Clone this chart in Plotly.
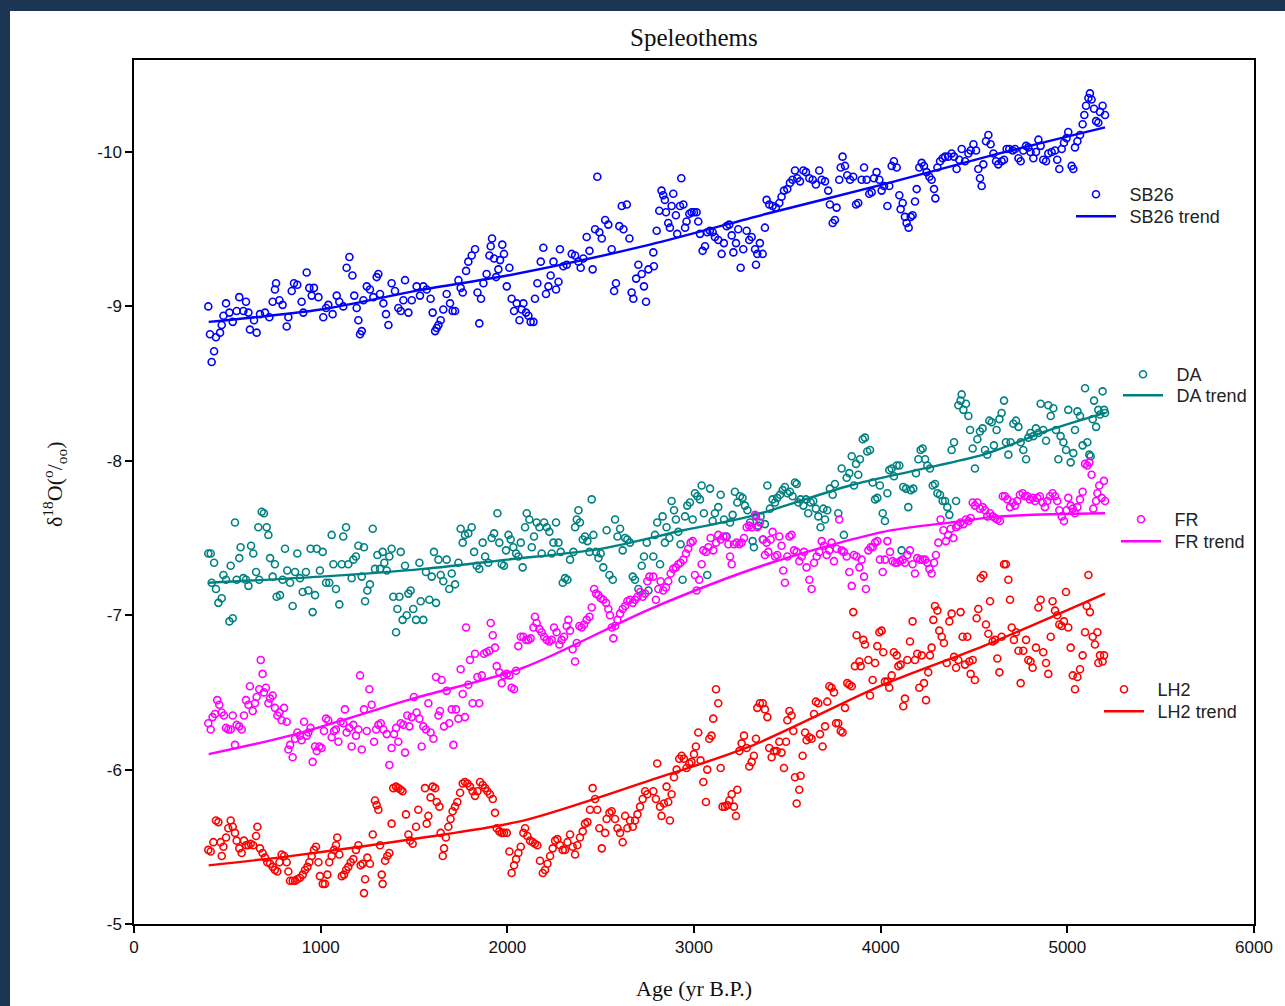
import plotly.graph_objects as go

# ---------------- data (age yr B.P., d18O permil) ----------------
SB26_POINTS = [
(398,-9.00),(407,-8.82),(416,-8.64),(429,-8.71),(439,-8.80),(461,-8.83),(470,-8.88),(479,-8.94),(493,-9.02),(511,-8.96),
(529,-8.90),(550,-8.97),(564,-9.06),(586,-8.97),(600,-9.03),(613,-8.96),(621,-8.85),(643,-8.91),(657,-8.83),(675,-8.95),
(702,-8.96),(725,-8.93),(743,-9.03),(755,-9.11),(761,-9.15),(779,-9.04),(796,-9.01),(818,-8.87),(827,-8.93),(845,-9.10),
(857,-9.15),(875,-9.14),(898,-9.03),(907,-8.96),(925,-9.22),(939,-9.12),(952,-9.07),(964,-9.12),(988,-9.06),(1014,-8.93),
(1029,-8.99),(1041,-9.01),(1064,-8.95),(1086,-9.07),(1100,-9.03),(1121,-9.00),(1139,-9.25),(1154,-9.32),(1170,-9.20),(1180,-9.07),
(1193,-8.99),(1202,-8.91),(1211,-8.82),(1220,-8.84),(1229,-9.04),(1247,-9.13),(1264,-9.11),(1282,-9.06),(1300,-9.19),(1309,-9.21),
(1318,-9.08),(1336,-9.02),(1350,-8.95),(1363,-8.88),(1380,-9.15),(1398,-9.10),(1416,-8.99),(1429,-8.97),(1443,-9.04),(1452,-9.17),
(1470,-8.96),(1488,-9.04),(1514,-9.13),(1532,-9.07),(1550,-9.13),(1568,-9.11),(1589,-9.05),(1600,-8.96),(1613,-8.84),(1622,-8.86),
(1631,-8.88),(1643,-8.91),(1657,-8.98),(1675,-9.08),(1693,-9.02),(1707,-8.97),(1720,-8.97),(1738,-9.17),(1750,-9.12),(1761,-9.09),
(1779,-9.23),(1791,-9.29),(1809,-9.33),(1827,-9.37),(1840,-9.09),(1850,-8.89),(1859,-9.05),(1872,-9.15),(1889,-9.21),(1904,-9.33),
(1911,-9.39),(1918,-9.44),(1929,-9.31),(1940,-9.19),(1952,-9.24),(1961,-9.30),(1973,-9.40),(1982,-9.34),(1997,-9.13),(2011,-9.25),
(2023,-9.05),(2036,-8.97),(2050,-9.02),(2065,-8.91),(2077,-8.98),(2086,-9.02),(2100,-8.96),(2113,-8.94),(2125,-8.90),(2140,-8.90),
(2148,-9.05),(2161,-9.15),(2179,-9.29),(2193,-9.38),(2207,-9.08),(2220,-9.13),(2232,-9.20),(2247,-9.29),(2261,-9.11),(2274,-9.16),
(2282,-9.37),(2300,-9.26),(2318,-9.27),(2345,-9.34),(2363,-9.33),(2381,-9.29),(2393,-9.25),(2407,-9.31),(2425,-9.45),(2440,-9.36),
(2457,-9.24),(2470,-9.50),(2482,-9.84),(2493,-9.48),(2506,-9.44),(2524,-9.56),(2541,-9.53),(2559,-9.37),(2572,-9.10),(2582,-9.15),
(2600,-9.52),(2613,-9.65),(2622,-9.50),(2640,-9.66),(2654,-9.44),(2666,-9.09),(2675,-9.05),(2690,-9.18),(2702,-9.27),(2720,-9.21),
(2732,-9.13),(2743,-9.03),(2756,-9.24),
(2782,-9.35),(2785,-9.26),(2800,-9.49),(2814,-9.62),(2826,-9.75),(2835,-9.72),(2844,-9.69),(2850,-9.61),(2862,-9.54),(2871,-9.51),
(2880,-9.65),(2889,-9.73),(2903,-9.59),(2910,-9.47),(2925,-9.65),(2932,-9.83),(2943,-9.66),(2952,-9.51),(2960,-9.55),(2975,-9.60),
(2987,-9.61),(3000,-9.61),(3014,-9.61),(3023,-9.55),(3032,-9.47),(3046,-9.36),(3059,-9.39),(3071,-9.48),(3085,-9.49),(3100,-9.48),
(3112,-9.45),(3130,-9.43),(3148,-9.34),(3160,-9.41),(3175,-9.52),(3189,-9.53),(3202,-9.46),(3211,-9.35),(3225,-9.41),(3237,-9.50),
(3250,-9.25),(3264,-9.37),(3282,-9.49),(3296,-9.43),(3309,-9.45),(3327,-9.37),(3332,-9.27),(3339,-9.34),(3353,-9.41),(3368,-9.34),
(3380,-9.51),(3389,-9.69),(3403,-9.66),(3421,-9.65),(3439,-9.64),(3457,-9.67),(3469,-9.71),(3482,-9.75),(3500,-9.76),(3514,-9.80),
(3528,-9.82),(3541,-9.88),(3553,-9.83),(3568,-9.81),(3586,-9.88),(3600,-9.87),(3618,-9.83),(3636,-9.82),(3653,-9.79),(3671,-9.88),
(3684,-9.82),(3702,-9.81),(3719,-9.75),(3728,-9.66),(3743,-9.54),(3755,-9.56),(3764,-9.64),(3778,-9.82),(3786,-9.90),(3796,-9.97),
(3809,-9.91),(3821,-9.85),(3836,-9.82),(3853,-9.84),(3868,-9.66),(3880,-9.67),(3898,-9.82),(3911,-9.90),(3925,-9.82),(3939,-9.73),
(3952,-9.74),(3964,-9.83),(3978,-9.87),(3993,-9.82),(4005,-9.75),(4018,-9.78),(4036,-9.65),(4046,-9.78),(4059,-9.91),(4071,-9.94),
(4086,-9.90),(4100,-9.72),(4107,-9.63),(4118,-9.67),(4130,-9.58),(4139,-9.54),(4150,-9.51),(4161,-9.58),(4171,-9.59),(4184,-9.68),
(4193,-9.76),(4207,-9.90),(4220,-9.93),(4232,-9.91),(4246,-9.87),(4261,-9.84),(4273,-9.82),(4286,-9.76),(4293,-9.70),(4304,-9.90),
(4318,-9.94),(4332,-9.96),(4345,-9.97),(4362,-9.97),(4380,-9.99),(4393,-9.97),(4407,-9.89),(4421,-9.95),(4434,-10.02),(4452,-9.94),
(4470,-9.99),(4482,-10.01),(4497,-10.05),(4511,-10.01),(4523,-9.89),(4532,-9.83),(4541,-9.78),(4550,-9.92),(4564,-10.07),(4577,-10.11),
(4589,-10.05),(4604,-9.99),(4618,-9.94),(4630,-9.92),(4648,-9.94),(4661,-9.95),(4675,-10.02),(4689,-10.02),(4707,-10.01),(4720,-10.02),
(4738,-9.96),(4750,-9.94),(4764,-10.01),(4779,-10.04),(4791,-10.03),(4803,-10.00),(4818,-9.96),(4832,-10.00),(4845,-10.08),(4857,-10.04),
(4871,-9.95),(4886,-9.94),(4898,-9.99),(4916,-10.00),(4934,-10.01),(4946,-9.95),(4957,-9.89),(4970,-10.02),(4982,-10.06),(4996,-10.09),
(5005,-10.13),(5023,-9.91),(5032,-9.89),(5041,-10.03),(5054,-10.07),(5068,-10.11),(5082,-10.18),(5091,-10.24),(5100,-10.30),(5113,-10.35),
(5121,-10.38),(5130,-10.34),(5143,-10.28),(5154,-10.20),(5166,-10.19),(5175,-10.26),(5189,-10.30),(5202,-10.24),
]

DA_POINTS = [
(398,-7.40),(411,-7.40),(416,-7.21),(429,-7.34),(439,-7.17),(452,-7.08),(470,-7.11),(479,-7.26),(493,-7.23),(511,-6.96),
(518,-7.32),(529,-6.98),(541,-7.60),(550,-7.23),(564,-7.37),(571,-7.44),(586,-7.24),(600,-7.23),(613,-7.19),(627,-7.45),
(639,-7.40),(654,-7.28),(666,-7.57),(671,-7.23),(684,-7.67),(696,-7.66),(711,-7.57),(720,-7.52),(729,-7.37),(743,-7.25),
(755,-7.33),(764,-7.12),(782,-7.13),(796,-7.23),(809,-7.43),(821,-7.29),(836,-7.21),(850,-7.06),(863,-7.28),(875,-7.40),
(889,-7.24),(904,-7.15),(921,-7.28),(934,-7.16),(946,-7.43),(957,-7.02),(970,-7.13),(979,-7.43),(996,-7.29),(1011,-7.41),
(1029,-7.21),(1046,-7.21),(1059,-7.52),(1068,-7.33),(1082,-7.17),(1100,-7.07),(1113,-7.33),(1121,-7.51),(1136,-7.57),(1148,-7.33),
(1166,-7.24),(1175,-7.36),(1189,-7.38),(1202,-7.45),(1220,-7.25),(1232,-7.44),(1238,-7.09),(1250,-7.16),(1264,-7.20),(1279,-7.56),
(1291,-7.30),(1304,-7.39),(1318,-7.30),(1332,-7.41),(1341,-7.34),(1354,-7.29),(1368,-7.38),(1380,-7.43),(1389,-7.12),(1404,-6.89),
(1411,-7.04),(1422,-7.12),(1429,-7.41),(1439,-6.97),(1452,-7.32),(1461,-7.00),(1470,-7.14),(1482,-7.16),(1496,-7.04),(1511,-6.97),
(1529,-7.34),(1536,-7.09),(1550,-6.97),(1564,-7.28),(1582,-7.10),(1595,-7.25),(1607,-7.41),(1618,-7.08),(1631,-7.36),(1643,-7.26),
(1657,-7.22),(1675,-7.36),(1689,-7.17),(1702,-7.27),(1720,-7.20),(1738,-7.34),(1750,-7.56),(1761,-7.47),(1773,-7.52),(1791,-7.53),
(1809,-7.57),(1822,-7.41),(1836,-7.32),(1850,-7.30),(1868,-7.47),(1881,-7.38),(1898,-7.34),(1916,-7.50),(1929,-7.53),(1947,-7.66),
(1957,-7.47),(1970,-7.33),(1982,-7.32),(1993,-7.42),(2006,-7.52),(2018,-7.49),(2032,-7.44),(2047,-7.40),(2059,-7.38),(2072,-7.47),
(2082,-7.31),(2095,-7.57),(2104,-7.66),(2118,-7.62),(2131,-7.44),(2143,-7.51),(2157,-7.60),(2172,-7.57),(2184,-7.40),(2197,-7.60),
(2211,-7.57),(2225,-7.54),(2238,-7.40),(2247,-7.47),(2261,-7.60),(2274,-7.47),(2286,-7.41),(2297,-7.21),(2309,-7.24),(2322,-7.23),
(2336,-7.36),(2354,-7.41),(2363,-7.57),(2372,-7.62),(2381,-7.68),(2389,-7.60),(2404,-7.49),(2416,-7.51),(2429,-7.48),(2440,-7.41),
(2452,-7.75),(2461,-7.52),(2475,-7.41),(2488,-7.37),(2500,-7.40),(2514,-7.31),(2532,-7.55),(2547,-7.26),(2565,-7.23),(2577,-7.62),
(2590,-7.51),(2604,-7.56),(2618,-7.42),(2631,-7.50),(2643,-7.49),(2657,-7.47),(2672,-7.25),(2684,-7.23),(2702,-7.17),(2720,-7.32),
(2732,-7.38),(2747,-7.47),(2756,-7.16),
(2782,-7.38),(2791,-7.52),(2803,-7.60),(2818,-7.33),(2832,-7.64),(2844,-7.47),(2853,-7.57),(2868,-7.50),(2880,-7.74),(2893,-7.68),
(2903,-7.62),(2916,-7.54),(2928,-7.46),(2939,-7.23),(2952,-7.64),(2964,-7.71),(2978,-7.73),(2993,-7.62),(3005,-7.79),(3018,-7.77),
(3032,-7.75),(3041,-7.84),(3053,-7.66),(3071,-7.26),(3086,-7.82),(3100,-7.61),(3112,-7.66),(3130,-7.70),(3143,-7.78),(3161,-7.62),
(3175,-7.51),(3193,-7.60),(3207,-7.65),(3219,-7.80),(3232,-7.73),(3246,-7.77),(3260,-7.76),(3273,-7.71),(3286,-7.68),(3300,-7.60),
(3314,-7.48),(3321,-7.44),(3332,-7.64),(3344,-7.58),(3357,-7.64),(3371,-7.49),(3380,-7.59),(3393,-7.84),(3407,-7.69),(3421,-7.75),
(3434,-7.73),(3446,-7.76),(3461,-7.78),(3475,-7.81),(3487,-7.83),(3500,-7.79),(3514,-7.80),(3528,-7.77),(3541,-7.86),(3550,-7.85),
(3559,-7.73),(3571,-7.75),(3586,-7.71),(3600,-7.75),(3612,-7.66),(3625,-7.73),(3639,-7.74),(3653,-7.69),(3666,-7.64),(3678,-7.57),
(3693,-7.69),(3702,-7.62),(3714,-7.68),(3728,-7.82),(3743,-7.78),(3755,-7.85),(3773,-7.66),(3791,-7.95),(3803,-7.52),(3818,-7.89),
(3832,-7.92),(3845,-8.03),(3857,-7.84),(3868,-7.98),(3880,-7.91),(3889,-8.01),(3904,-8.14),(3916,-8.15),(3928,-8.06),(3943,-8.07),
(3957,-7.86),(3970,-7.75),(3982,-7.76),(3996,-7.84),(4011,-7.66),(4023,-7.61),(4036,-7.79),(4046,-7.94),(4059,-7.95),(4071,-7.90),
(4086,-7.97),(4100,-7.97),(4112,-7.42),(4121,-7.83),(4136,-7.82),(4148,-7.70),(4161,-7.81),(4175,-7.82),(4189,-7.92),(4202,-8.01),
(4214,-8.07),(4225,-8.08),(4238,-8.01),(4250,-7.97),(4264,-7.95),(4279,-7.84),(4291,-7.85),(4304,-7.79),(4318,-7.78),(4332,-7.74),
(4345,-7.74),(4357,-7.70),(4368,-7.65),(4380,-8.07),(4393,-8.12),(4404,-7.74),(4416,-8.36),(4428,-8.39),(4434,-8.43),(4443,-8.33),
(4457,-8.37),(4470,-8.29),(4479,-8.20),(4493,-8.08),(4505,-7.95),(4518,-8.14),(4532,-8.19),(4546,-8.21),(4559,-8.07),(4571,-8.04),
(4582,-8.26),(4595,-8.25),(4607,-8.10),(4621,-8.20),(4636,-8.27),(4648,-8.31),(4661,-8.39),(4671,-8.12),(4684,-8.04),(4696,-8.12),
(4711,-8.24),(4725,-8.26),(4738,-8.22),(4750,-8.12),(4764,-8.07),(4779,-8.01),(4791,-8.15),(4803,-8.18),(4818,-8.16),(4832,-8.21),
(4845,-8.18),(4857,-8.37),(4871,-8.20),(4886,-8.13),(4898,-8.36),(4911,-8.29),(4925,-8.34),(4939,-8.20),(4952,-8.01),(4964,-8.16),
(4979,-8.12),(4993,-8.07),(5005,-8.33),(5018,-7.99),(5032,-8.05),(5041,-8.20),(5054,-8.32),(5068,-8.29),(5082,-8.10),(5095,-8.47),
(5107,-8.12),(5118,-8.04),(5125,-8.03),(5136,-8.27),(5143,-8.39),(5154,-8.22),(5166,-8.33),(5175,-8.30),(5189,-8.45),(5197,-8.33),
(5202,-8.31),
]

FR_POINTS = [
(398,-6.30),(411,-6.26),(421,-6.34),(434,-6.36),(446,-6.45),(457,-6.42),(470,-6.37),(482,-6.35),(493,-6.27),(505,-6.26),
(518,-6.26),(529,-6.35),(541,-6.16),(550,-6.29),(564,-6.28),(577,-6.26),(589,-6.35),(600,-6.45),(613,-6.42),(621,-6.54),
(636,-6.38),(648,-6.43),(657,-6.47),(671,-6.52),(679,-6.71),(689,-6.62),(696,-6.50),(707,-6.53),(720,-6.43),(729,-6.46),
(743,-6.48),(755,-6.40),(768,-6.35),(779,-6.37),(791,-6.32),(804,-6.40),(818,-6.31),(827,-6.13),(836,-6.16),(850,-6.08),
(863,-6.20),(875,-6.24),(889,-6.22),(898,-6.19),(911,-6.31),(925,-6.22),(934,-6.24),(946,-6.27),(957,-6.05),(970,-6.15),
(979,-6.12),(993,-6.15),(1005,-6.14),(1018,-6.25),(1029,-6.33),(1041,-6.32),(1059,-6.21),(1072,-6.25),(1082,-6.26),(1095,-6.18),
(1107,-6.31),(1121,-6.30),(1130,-6.39),(1139,-6.24),(1154,-6.27),(1166,-6.15),(1175,-6.29),(1189,-6.22),(1202,-6.26),(1211,-6.61),
(1220,-6.13),(1232,-6.39),(1247,-6.25),(1261,-6.52),(1273,-6.42),(1286,-6.18),(1297,-6.26),(1309,-6.29),(1322,-6.30),(1336,-6.26),
(1354,-6.23),(1368,-6.03),(1380,-6.14),(1393,-6.23),(1404,-6.27),(1416,-6.18),(1429,-6.30),(1443,-6.29),(1452,-6.11),(1464,-6.35),
(1475,-6.28),(1488,-6.34),(1500,-6.47),(1514,-6.37),(1529,-6.33),(1541,-6.15),(1550,-6.28),(1564,-6.26),(1577,-6.43),(1589,-6.24),
(1604,-6.20),(1618,-6.60),(1631,-6.35),(1639,-6.38),(1648,-6.58),(1661,-6.28),(1675,-6.51),(1689,-6.30),(1702,-6.39),(1711,-6.16),
(1725,-6.39),(1738,-6.33),(1750,-6.65),(1761,-6.49),(1773,-6.34),(1779,-6.92),(1791,-6.55),(1800,-6.71),(1814,-6.43),(1827,-6.75),
(1840,-6.60),(1850,-6.43),(1863,-6.61),(1875,-6.75),(1889,-6.76),(1904,-6.77),(1911,-6.95),(1922,-6.87),(1934,-6.79),(1943,-6.67),
(1957,-6.63),(1970,-6.56),(1982,-6.61),(1997,-6.62),(2011,-6.61),(2023,-6.53),(2036,-6.52),(2047,-6.64),(2059,-6.80),(2072,-6.86),
(2086,-6.86),(2100,-6.84),(2113,-6.84),(2125,-6.85),(2140,-6.92),(2148,-6.99),(2157,-6.95),(2172,-6.91),(2184,-6.89),(2197,-6.86),
(2211,-6.84),(2225,-6.83),(2238,-6.84),(2250,-6.92),(2264,-6.89),(2279,-6.81),(2291,-6.84),(2304,-6.86),(2318,-6.93),(2327,-6.97),
(2336,-6.90),(2350,-6.78),(2363,-6.70),(2372,-6.82),(2386,-6.93),(2398,-6.92),(2411,-6.94),(2425,-6.97),(2440,-6.99),(2452,-7.05),
(2465,-7.17),(2475,-7.14),(2488,-7.13),(2500,-7.11),(2514,-7.10),(2529,-7.08),(2541,-7.04),(2550,-7.00),(2559,-6.92),(2568,-6.85),
(2577,-6.93),(2590,-6.97),(2604,-7.01),(2618,-7.04),(2631,-7.06),(2643,-7.09),(2657,-7.10),(2672,-7.08),(2684,-7.10),(2697,-7.12),
(2711,-7.15),(2725,-7.12),(2738,-7.14),(2750,-7.22),(2761,-7.25),
(2782,-7.25),(2796,-7.10),(2809,-7.17),(2821,-7.22),(2835,-7.16),(2850,-7.18),(2862,-7.22),(2875,-7.27),(2889,-7.30),(2903,-7.31),
(2916,-7.33),(2928,-7.34),(2943,-7.36),(2957,-7.40),(2969,-7.43),(2982,-7.47),(2993,-7.48),(3005,-7.26),(3014,-7.16),(3028,-7.23),
(3041,-7.33),(3050,-7.42),(3064,-7.41),(3077,-7.44),(3089,-7.50),(3103,-7.42),(3118,-7.47),(3130,-7.52),(3143,-7.49),(3157,-7.51),
(3171,-7.51),(3184,-7.46),(3193,-7.38),(3202,-7.33),(3214,-7.46),(3228,-7.47),(3243,-7.46),(3255,-7.47),(3268,-7.50),(3282,-7.57),
(3296,-7.58),(3309,-7.57),(3327,-7.65),(3339,-7.57),(3353,-7.60),(3368,-7.49),(3380,-7.39),(3389,-7.47),(3398,-7.41),(3411,-7.49),
(3421,-7.54),(3434,-7.38),(3446,-7.39),(3457,-7.51),(3469,-7.45),(3478,-7.29),(3487,-7.21),(3500,-7.38),(3511,-7.51),(3523,-7.52),
(3536,-7.42),(3550,-7.41),(3564,-7.35),(3577,-7.38),(3589,-7.41),(3603,-7.31),(3618,-7.23),(3630,-7.17),(3643,-7.34),(3657,-7.38),
(3671,-7.41),(3684,-7.48),(3696,-7.45),(3711,-7.39),(3725,-7.42),(3737,-7.47),(3750,-7.35),(3764,-7.43),(3778,-7.62),(3791,-7.42),
(3803,-7.41),(3818,-7.38),(3832,-7.28),(3845,-7.19),(3857,-7.39),(3871,-7.38),(3886,-7.31),(3898,-7.36),(3911,-7.25),(3921,-7.17),
(3934,-7.42),(3946,-7.44),(3957,-7.44),(3970,-7.47),(3982,-7.48),(3996,-7.36),(4011,-7.28),(4023,-7.36),(4036,-7.48),(4050,-7.41),
(4064,-7.35),(4077,-7.34),(4089,-7.34),(4104,-7.35),(4118,-7.36),(4130,-7.34),(4143,-7.39),(4157,-7.42),(4171,-7.33),(4184,-7.27),
(4196,-7.37),(4211,-7.36),(4225,-7.36),(4238,-7.36),(4250,-7.34),(4261,-7.30),(4273,-7.27),(4286,-7.34),(4296,-7.39),(4309,-7.47),
(4321,-7.62),(4336,-7.55),(4350,-7.48),(4362,-7.52),(4375,-7.56),(4389,-7.50),(4404,-7.57),(4416,-7.58),(4428,-7.60),(4443,-7.59),
(4457,-7.62),(4470,-7.61),(4482,-7.63),(4493,-7.73),(4505,-7.71),(4518,-7.73),(4532,-7.69),(4546,-7.70),(4559,-7.68),(4571,-7.64),
(4586,-7.66),(4600,-7.64),(4613,-7.63),(4625,-7.62),(4639,-7.61),(4654,-7.77),(4666,-7.77),(4679,-7.75),(4693,-7.70),(4707,-7.73),
(4720,-7.71),(4732,-7.74),(4746,-7.78),(4761,-7.79),(4773,-7.77),(4786,-7.77),(4800,-7.75),(4814,-7.76),(4827,-7.74),(4839,-7.76),
(4853,-7.77),(4868,-7.73),(4880,-7.70),(4893,-7.74),(4907,-7.77),(4921,-7.79),(4934,-7.77),(4946,-7.74),(4957,-7.68),(4970,-7.64),
(4982,-7.61),(4996,-7.68),(5005,-7.76),(5018,-7.71),(5029,-7.69),(5041,-7.66),(5054,-7.70),(5068,-7.75),(5082,-7.80),(5095,-7.98),
(5107,-7.97),(5118,-7.99),(5130,-7.91),(5139,-7.69),(5154,-7.74),(5161,-7.79),(5171,-7.84),(5184,-7.76),(5196,-7.87),(5202,-7.74),
]

LH2_POINTS = [
(398,-5.48),(411,-5.47),(425,-5.53),(439,-5.67),(452,-5.66),(464,-5.53),(470,-5.44),(479,-5.50),(493,-5.56),(505,-5.62),
(518,-5.67),(529,-5.63),(541,-5.59),(550,-5.54),(564,-5.49),(577,-5.46),(589,-5.54),(600,-5.51),(613,-5.51),(625,-5.52),
(639,-5.51),(654,-5.57),(661,-5.63),(675,-5.49),(689,-5.46),(702,-5.43),(714,-5.40),(729,-5.39),(743,-5.37),(755,-5.35),
(768,-5.34),(779,-5.40),(791,-5.45),(804,-5.44),(818,-5.40),(827,-5.34),(836,-5.28),(850,-5.28),(863,-5.28),(875,-5.29),
(889,-5.30),(904,-5.32),(916,-5.35),(929,-5.37),(939,-5.40),(952,-5.44),(964,-5.48),(975,-5.50),(988,-5.40),(996,-5.31),
(1011,-5.26),(1023,-5.26),(1036,-5.32),(1046,-5.40),(1059,-5.44),(1072,-5.48),(1082,-5.51),(1089,-5.56),(1100,-5.45),(1113,-5.31),
(1125,-5.32),(1136,-5.35),(1148,-5.37),(1161,-5.40),(1175,-5.42),(1189,-5.48),(1202,-5.51),(1214,-5.38),(1225,-5.39),(1232,-5.20),
(1238,-5.29),(1250,-5.43),(1264,-5.39),(1279,-5.58),(1291,-5.80),(1300,-5.77),(1309,-5.74),(1318,-5.51),(1327,-5.32),(1332,-5.26),
(1345,-5.41),(1357,-5.44),(1368,-5.46),(1380,-5.65),(1389,-5.88),(1404,-5.89),(1416,-5.88),(1429,-5.87),(1439,-5.86),(1457,-5.71),
(1470,-5.58),(1479,-5.54),(1493,-5.52),(1511,-5.63),(1523,-5.74),(1559,-5.88),(1568,-5.65),(1577,-5.70),(1589,-5.82),(1600,-5.89),
(1613,-5.88),(1622,-5.79),(1636,-5.76),(1643,-5.59),(1654,-5.44),(1661,-5.49),(1671,-5.56),(1684,-5.63),(1696,-5.68),(1707,-5.73),
(1720,-5.76),(1732,-5.79),(1747,-5.85),(1761,-5.91),(1773,-5.92),(1786,-5.91),(1800,-5.89),(1814,-5.86),(1827,-5.83),(1840,-5.86),
(1854,-5.92),(1868,-5.90),(1881,-5.88),(1893,-5.86),(1907,-5.84),(1922,-5.81),(1934,-5.72),(1943,-5.62),(1957,-5.60),(1970,-5.59),
(1982,-5.59),(1997,-5.59),(2011,-5.47),(2023,-5.33),(2036,-5.38),(2047,-5.42),(2059,-5.46),(2072,-5.50),(2086,-5.59),(2095,-5.62),
(2107,-5.57),(2122,-5.54),(2136,-5.53),(2148,-5.52),(2161,-5.51),(2175,-5.41),(2190,-5.33),(2202,-5.35),(2215,-5.39),(2229,-5.44),
(2243,-5.49),(2256,-5.54),(2268,-5.55),(2282,-5.51),(2297,-5.48),(2309,-5.48),(2322,-5.53),(2336,-5.58),(2350,-5.50),(2363,-5.45),
(2375,-5.51),(2389,-5.56),(2404,-5.60),(2416,-5.65),(2429,-5.66),(2443,-5.74),(2457,-5.88),(2470,-5.81),(2482,-5.74),(2493,-5.62),
(2506,-5.49),(2524,-5.59),(2532,-5.68),(2547,-5.72),(2559,-5.73),(2577,-5.68),(2590,-5.62),(2604,-5.59),(2618,-5.53),(2631,-5.70),
(2643,-5.62),(2657,-5.67),(2672,-5.63),(2684,-5.67),(2697,-5.71),(2711,-5.76),(2725,-5.81),(2738,-5.86),(2750,-5.84),
(2782,-5.86),(2796,-5.81),(2803,-6.04),(2818,-5.76),(2826,-5.70),(2839,-5.78),(2853,-5.89),(2862,-5.79),(2871,-5.67),(2880,-5.84),
(2893,-5.95),(2907,-6.00),(2921,-6.07),(2934,-6.09),(2946,-6.07),(2960,-6.01),(2975,-6.04),(2987,-6.05),(3000,-6.10),(3010,-6.15),
(3023,-6.24),(3035,-6.06),(3050,-5.92),(3064,-5.79),(3071,-6.00),(3082,-6.20),(3094,-6.22),(3103,-6.33),(3118,-6.52),(3130,-6.43),
(3143,-6.01),(3153,-5.76),(3166,-5.76),(3178,-5.77),(3189,-5.80),(3202,-5.84),(3214,-5.76),(3225,-5.70),(3232,-5.87),(3243,-6.12),
(3255,-6.17),(3268,-6.22),(3282,-6.14),(3296,-6.02),(3309,-6.05),(3321,-6.09),(3332,-6.20),(3339,-6.40),(3353,-6.43),(3368,-6.43),
(3380,-6.39),(3393,-6.34),(3403,-6.14),(3416,-6.08),(3429,-6.12),(3443,-6.12),(3457,-6.18),(3469,-6.11),(3482,-6.01),(3493,-6.18),
(3500,-6.32),(3511,-6.38),(3523,-6.35),(3532,-6.25),(3541,-5.95),(3550,-5.78),(3564,-5.87),(3571,-5.96),(3582,-6.09),(3595,-6.24),
(3603,-6.19),(3618,-6.21),(3630,-6.20),(3643,-6.36),(3653,-6.44),(3666,-6.43),(3675,-6.23),(3689,-6.15),(3702,-6.28),(3714,-6.44),
(3725,-6.54),(3737,-6.53),(3750,-6.50),(3761,-6.30),(3773,-6.30),(3786,-6.25),(3796,-6.24),(3809,-6.40),(3821,-6.56),(3832,-6.55),
(3845,-6.54),(3853,-7.02),(3862,-6.67),(3871,-6.87),(3886,-6.70),(3893,-6.67),(3907,-6.84),(3916,-6.81),(3934,-6.71),(3943,-6.48),
(3957,-6.58),(3970,-6.69),(3982,-6.80),(3993,-6.89),(4005,-6.90),(4014,-6.76),(4023,-6.57),(4036,-6.57),(4046,-6.53),(4059,-6.61),
(4071,-6.76),(4086,-6.74),(4095,-6.67),(4107,-6.68),(4121,-6.41),(4130,-6.46),(4143,-6.71),(4157,-6.83),(4171,-6.96),(4184,-6.71),
(4196,-6.75),(4207,-6.53),(4220,-6.74),(4232,-6.56),(4243,-6.45),(4255,-6.63),(4264,-6.74),(4273,-6.79),(4282,-6.97),(4291,-7.06),
(4304,-7.03),(4314,-6.90),(4327,-6.86),(4339,-6.82),(4354,-6.69),(4368,-6.96),(4380,-7.01),(4393,-6.73),(4404,-6.66),(4416,-6.71),
(4428,-7.02),(4439,-6.86),(4452,-6.68),(4464,-6.86),(4475,-6.70),(4482,-6.62),(4493,-6.71),(4505,-6.58),(4514,-6.98),(4523,-7.04),
(4536,-7.24),(4550,-7.26),(4564,-6.94),(4577,-6.88),(4586,-7.09),(4600,-6.83),(4613,-6.84),(4625,-6.72),(4636,-6.63),(4648,-6.86),
(4661,-7.33),(4671,-7.33),(4684,-7.23),(4693,-7.10),(4702,-6.92),(4714,-6.84),(4725,-6.89),(4738,-6.77),(4750,-6.56),(4764,-6.77),
(4779,-6.84),(4791,-6.71),(4803,-6.70),(4814,-6.66),(4832,-6.79),(4845,-7.05),(4857,-7.10),(4871,-6.76),(4886,-6.69),(4898,-6.62),
(4911,-6.86),(4921,-7.09),(4934,-7.03),(4946,-7.00),(4957,-6.94),(4970,-6.93),(4982,-6.96),(4993,-7.15),(5005,-6.92),(5018,-6.79),
(5029,-6.61),(5041,-6.52),(5054,-6.60),(5068,-6.65),(5082,-6.74),(5095,-6.89),(5104,-7.06),(5113,-7.26),(5121,-7.02),(5136,-6.86),
(5148,-6.81),(5161,-6.89),(5166,-6.69),(5175,-6.74),(5189,-6.70),(5197,-6.74),
]

# trend curves
SB26_TREND_AGE = [400, 1000, 1550, 2000, 2764, 3389, 4014, 4600, 5202]
SB26_TREND_VAL = [-8.90, -8.98, -9.11, -9.20, -9.40, -9.60, -9.79, -9.98, -10.16]
DA_TREND_AGE = [400, 1000, 1550, 2000, 2500, 2943, 3300, 3835, 4193, 4550, 4907, 5202]
DA_TREND_VAL = [-7.21, -7.25, -7.30, -7.36, -7.43, -7.55, -7.64, -7.84, -7.94, -8.04, -8.20, -8.31]
FR_TREND_AGE = [400, 836, 1495, 2086, 2764, 3389, 4014, 4372, 4640, 5202]
FR_TREND_VAL = [-6.10, -6.22, -6.46, -6.66, -7.04, -7.33, -7.54, -7.60, -7.64, -7.66]
LH2_TREND_AGE = [400, 836, 1550, 2086, 2764, 3300, 4014, 4550, 5202]
LH2_TREND_VAL = [-5.38, -5.44, -5.56, -5.67, -5.93, -6.15, -6.55, -6.80, -7.14]

SERIES = [
    ("SB26", SB26_POINTS, SB26_TREND_AGE, SB26_TREND_VAL, "#0000ff"),
    ("DA", DA_POINTS, DA_TREND_AGE, DA_TREND_VAL, "#008080"),
    ("FR", FR_POINTS, FR_TREND_AGE, FR_TREND_VAL, "#ff00ff"),
    ("LH2", LH2_POINTS, LH2_TREND_AGE, LH2_TREND_VAL, "#ff0000"),
]

X_TICKS = [0, 1000, 2000, 3000, 4000, 5000, 6000]
Y_TICKS = [-10, -9, -8, -7, -6, -5]

# ---------------- figure ----------------
W, H = 1285, 1006
L, R, T, B = 134, 31, 60, 82
PW, PH = W - L - R, H - T - B

def px2paper_x(px):
    return (px - L) / PW

def px2paper_y(py):
    return (H - B - py) / PH

fig = go.Figure()

sans = "Liberation Sans, Arial, sans-serif"
serif = "Liberation Serif, Times New Roman, serif"
GAP = "\u00a0\u2009"

# legend placement (left edge px, row centre px) for each series' symbol
LEGEND_SPOTS = {
    "SB26": (1071, 195, 217),
    "DA": (1118, 375, 396),
    "FR": (1116, 520, 542),
    "LH2": (1099, 690, 712),
}
ROW_OFFSET = 19  # px from legend top to row centre

legend_common = dict(
    bgcolor="rgba(0,0,0,0)", borderwidth=0, font=dict(family=sans, size=18, color="#222"),
    xanchor="left", yanchor="top", tracegroupgap=0, itemwidth=40,
)
layout_legends = {}
n = 0
for name, pts, tx, ty, col in SERIES:
    xs = [p[0] for p in pts]
    ys = [p[1] for p in pts]
    lx, r1, r2 = LEGEND_SPOTS[name]
    n += 1
    k1 = "legend" if n == 1 else f"legend{n}"
    layout_legends[k1] = dict(legend_common, x=px2paper_x(lx), y=px2paper_y(r1 - ROW_OFFSET))
    fig.add_trace(go.Scatter(
        x=xs, y=ys, mode="markers", name=GAP + name, legend=k1,
        marker=dict(symbol="circle-open", size=7, color=col, line=dict(width=1.6, color=col)),
    ))
    n += 1
    k2 = f"legend{n}"
    layout_legends[k2] = dict(legend_common, x=px2paper_x(lx), y=px2paper_y(r2 - ROW_OFFSET))
    fig.add_trace(go.Scatter(
        x=tx, y=ty, mode="lines", name=GAP + name + " trend", legend=k2,
        line=dict(color=col, width=2.4, shape="spline", smoothing=0.8),
    ))

fig.update_layout(
    width=W, height=H,
    margin=dict(l=L, r=R, t=T, b=B),
    paper_bgcolor="#1b3552",
    plot_bgcolor="white",
    showlegend=True,
    **layout_legends,
)

fig.add_shape(type="rect", xref="paper", yref="paper",
              x0=px2paper_x(10), x1=px2paper_x(1285), y0=px2paper_y(1006), y1=px2paper_y(11),
              fillcolor="white", line=dict(width=0), layer="below")

axis_common = dict(
    showgrid=False, zeroline=False, showline=True, linecolor="black", linewidth=1.5,
    mirror=True, ticks="outside", ticklen=7, tickwidth=1.5, tickcolor="black",
    tickfont=dict(family=sans, size=17, color="#111"),
)
fig.update_xaxes(range=[0, 6000], tickvals=X_TICKS, ticktext=[str(v) for v in X_TICKS], **axis_common)
fig.update_yaxes(range=[-5, -10.596], tickvals=Y_TICKS, ticktext=[str(v) for v in Y_TICKS], **axis_common)

fig.add_annotation(text="Speleothems", xref="paper", yref="paper",
                   x=px2paper_x(694), y=px2paper_y(38), showarrow=False,
                   xanchor="center", yanchor="middle", font=dict(family=serif, size=25, color="#111"))
fig.add_annotation(text="Age (yr B.P.)", xref="paper", yref="paper",
                   x=px2paper_x(694), y=px2paper_y(989), showarrow=False,
                   xanchor="center", yanchor="middle", font=dict(family=serif, size=22, color="#111"))
fig.add_annotation(text="δ<sup>18</sup>O(<sup>o</sup>/<sub>oo</sub>)", xref="paper", yref="paper",
                   x=px2paper_x(55), y=px2paper_y(484), showarrow=False, textangle=-90,
                   xanchor="center", yanchor="middle", font=dict(family=serif, size=22, color="#111"))

fig.write_html("out.html")
